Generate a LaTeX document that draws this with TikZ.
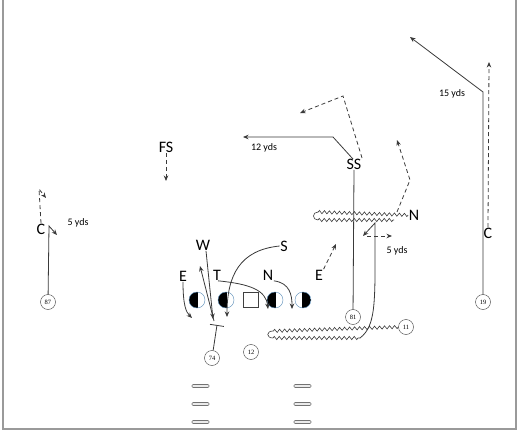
\documentclass[tikz,border=0pt]{standalone}
\usepackage{fontspec}
\setmainfont{Carlito}
\newfontfamily\numfont{Liberation Serif}
\usetikzlibrary{positioning,arrows.meta,decorations.pathmorphing}
\definecolor{routegray}{HTML}{3A3A3A}
\definecolor{olblue}{HTML}{5B8DB8}
\definecolor{framegray}{HTML}{9A9A9A}

\begin{document}
\begin{tikzpicture}[x=1pt, y=-1pt, >={Stealth[length=5.5pt,width=4.5pt]}]
\tikzstyle{player}=[font=\fontsize{16}{16}\selectfont, inner sep=0.5pt]
\tikzstyle{yds}=[font=\fontsize{10}{10}\selectfont, inner sep=0pt]
\tikzstyle{num}=[circle, draw=black!75, minimum size=15pt, inner sep=0pt, font=\numfont\fontsize{6.5}{6.5}\selectfont]
\tikzstyle{oline}=[circle, draw=olblue, minimum size=16pt, inner sep=0pt, path picture={\fill[black] ([xshift=1pt]path picture bounding box.north) rectangle (path picture bounding box.south west);}]
\tikzstyle{olineR}=[circle, draw=olblue, minimum size=16pt, inner sep=0pt, path picture={\fill[black] ([xshift=-1pt]path picture bounding box.north) rectangle (path picture bounding box.south east);}]
\tikzstyle{ctrbox}=[rectangle, draw=black!75, fill=white, minimum size=15pt, inner sep=0pt]
\tikzstyle{route}=[draw=routegray, line width=0.8pt]
\tikzstyle{dashroute}=[route, dash pattern=on 4pt off 3pt]
\tikzstyle{wavy}=[route, line width=0.6pt, decorate, decoration={zigzag, amplitude=1.6pt, segment length=5pt}]
\tikzstyle{hashmark}=[draw=black!55, fill=black!8, rounded corners=1pt, line width=0.7pt]
\useasboundingbox (0,0) rectangle (520,436);
\draw[framegray, line width=1.6pt] (3,0) -- (3,429) -- (516,429) -- (516,0);

% offense
\node[num] (r87) at (48,302) {87};
\node[num] (r74) at (212,358) {74};
\node[num] (r12) at (251,352) {12};
\node[num] (r81) at (353,317) {81};
\node[num] (r11) at (406,327) {11};
\node[num] (r19) at (483,302) {19};
\node[oline] (lt) at (197,300) {};
\node[oline] (lg) at (226,300) {};
\node[ctrbox] (ctr) at (251,300) {};
\node[oline] (rg) at (275,300) {};
\node[olineR] (rt) at (303,300) {};

% defense
\node[player] (fs) at (166,147) {FS};
\node[player] (ss) at (354,164) {SS};
\node[player] (wlb) at (203,245) {W};
\node[player] (slb) at (284,246) {S};
\node[player] (le) at (183,276) {E};
\node[player] (dt) at (217,275) {T};
\node[player] (nt) at (268,275) {N};
\node[player] (re) at (319,275) {E};
\node[player] (nk) at (414,215) {N};
\node[player] (lc) at (41,229) {C};
\node[player] (rc) at (488,233) {C};

% yardage
\node[yds] (y5a) at (78,223) {5 yds};
\node[yds] (y12) at (264,148) {12 yds};
\node[yds] (y5b) at (397,251) {5 yds};
\node[yds] (y15) at (452,94) {15 yds};

% route points
\coordinate (a87) at (49,226);
\coordinate (b87) at (57,235);
\coordinate (lcTop) at (39,189);
\coordinate (lcEnd) at (46,198);
\coordinate (fsEnd) at (166,181);
\coordinate (ssBend) at (333,137);
\coordinate (ssEnd) at (243,137);
\coordinate (ssDash) at (343,96);
\coordinate (ssDashEnd) at (300,113);
\coordinate (nkA) at (397,212);
\coordinate (nkB) at (410,180);
\coordinate (nkEnd) at (397,140);
\coordinate (a19) at (483,92);
\coordinate (b19) at (410,37);
\coordinate (rcEnd) at (489,62);
\coordinate (block) at (217,325);
\coordinate (wEnd) at (213,319);
\coordinate (leEnd) at (192,318);
\coordinate (slbEnd) at (227,317);
\coordinate (dtEnd) at (268,309);
\coordinate (ntEnd) at (292,309);
\coordinate (reEnd) at (336,244);
\coordinate (runEnd) at (200,266);
\coordinate (top11) at (375,223);
\coordinate (end11) at (363,236);

% outside routes
\draw[route, ->] (r87) -- (a87) -- (b87);
\draw[dashroute, ->] (lc.north) -- (lcTop) -- (lcEnd);
\draw[dashroute, ->] (fs.south) -- (fsEnd);
\draw[route] (r81) -- (ss.south);
\draw[route, ->] (ss.north) ++(-1,1) -- (ssBend) -- (ssEnd);
\draw[dashroute, ->] (ss.north east) -- (ssDash) -- (ssDashEnd);
\draw[dashroute, ->] (nkA) -- (nkB) -- (nkEnd);
\draw[route, ->] (r19) -- (a19) -- (b19);
\draw[dashroute, ->] (rc.north) -- (rcEnd);

% motion lines
\draw[wavy] (nk.west) -- (318,212);
\draw[route, line width=0.6pt] (318,212) .. controls (312,212) and (312,220) .. (318,220);
\draw[wavy] (318,220) -- (394,220);
\draw[wavy] (r11.west) -- (273,331);
\draw[route, line width=0.6pt] (273,331) .. controls (266,331) and (266,338) .. (273,338);
\draw[wavy] (273,338) -- (360,338);
\draw[route, ->] (360,338) .. controls (377,325) and (375,300) .. (top11) -- (end11);
\draw[dashroute, ->] (367,236) -- (392,236);

% front
\draw[route, ->] (le.south) .. controls (183,305) and (186,312) .. (leEnd);
\draw[route, ->] (wlb.south) ++(3,0) -- (wEnd);
\draw[route, ->] (214,321) -- (runEnd);
\draw[route, ->] (slb.west) .. controls (240,250) and (227,275) .. (slbEnd);
\draw[route, ->] (dt.south) ++(1,0) .. controls (250,284) and (266,290) .. (dtEnd);
\draw[route, ->] (nt.south east) .. controls (290,283) and (292,295) .. (ntEnd);
\draw[dashroute, ->] (re.north east) -- (reEnd);
\draw[route, -{Bar[width=14pt]}] (r74) -- (block);

% hash marks
\foreach \yy in {386,404,422} {
  \draw[hashmark] (192,\yy-1.5) rectangle (209,\yy+1.5);
  \draw[hashmark] (294,\yy-1.5) rectangle (311,\yy+1.5);
}
\end{tikzpicture}
\end{document}
